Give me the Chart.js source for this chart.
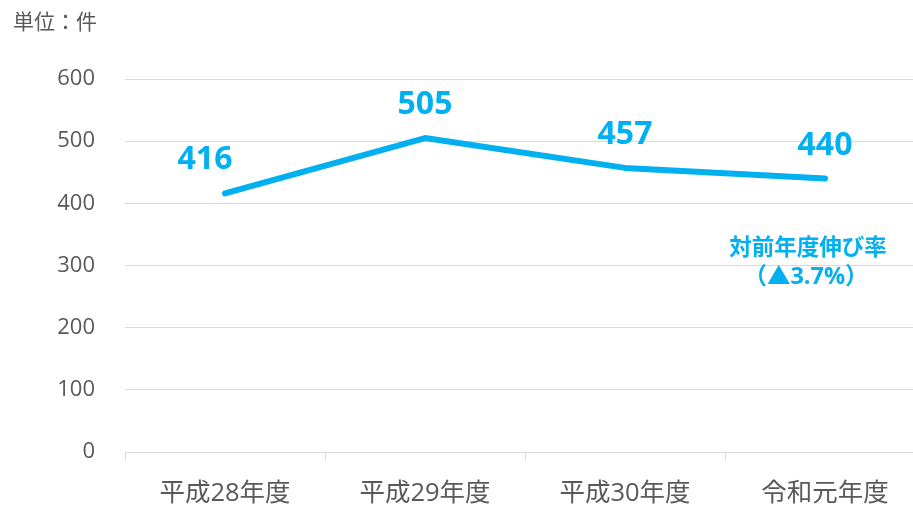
<!DOCTYPE html>
<html>
<head>
<meta charset="utf-8">
<script src="https://cdn.jsdelivr.net/npm/chart.js@4"></script>
<style>
  html, body { margin: 0; padding: 0; background: #fff; overflow: hidden; }
  #wrap { position: relative; width: 925px; height: 508px; }
</style>
</head>
<body>
<div id="wrap"><canvas id="grafico"></canvas></div>
<script>
// 年度ごとの件数
const nendo = ["平成28年度", "平成29年度", "平成30年度", "令和元年度"];
const kensu = [416, 505, 457, 440];
const yTicks = [0, 100, 200, 300, 400, 500, 600];
const tani = "単位：件";
const chushaku = ["対前年度伸び率", "（▲3.7%）"];

const AO = "#00b0f0";
const HAI = "#595959";
const SEN = "#d9d9d9";
const FONT = "'Open Sans', 'Noto Sans CJK JP', sans-serif";

// ラベル類は自前で描く
const labelPlugin = {
    id: "labels",
    afterDatasetsDraw(chart) {
        const ctx = chart.ctx;
        const meta = chart.getDatasetMeta(0);
        const xs = chart.scales.x, ys = chart.scales.y;
        const shift = [-20, 0, 0, 0];

        ctx.save();
        ctx.fillStyle = AO;
        ctx.font = "bold 32px " + FONT;
        ctx.textAlign = "center";
        ctx.textBaseline = "middle";
        meta.data.forEach((p, i) => {
            ctx.fillText(String(kensu[i]), p.x + shift[i], p.y - 33);
        });

        // 伸び率の注記
        ctx.font = "bold 22.5px " + FONT;
        const cx = xs.getPixelForValue(3) - 17;
        const cy = ys.getPixelForValue(327);
        ctx.fillText(chushaku[0], cx, cy);
        ctx.font = "bold 23.5px " + FONT;
        ctx.fillText(chushaku[1], cx - 2, cy + 29);

        // 単位
        ctx.fillStyle = HAI;
        ctx.font = "21px " + FONT;
        ctx.textAlign = "left";
        ctx.fillText(tani, 13, 23);
        ctx.restore();
    }
};

new Chart(document.getElementById("grafico"), {
    type: "line",
    data: {
        labels: nendo,
        datasets: [{
            data: kensu,
            borderColor: AO,
            borderWidth: 6,
            borderCapStyle: "round",
            borderJoinStyle: "round",
            pointRadius: 0,
            tension: 0,
            fill: false
        }]
    },
    options: {
        responsive: true,
        maintainAspectRatio: false,
        animation: false,
        layout: { padding: { top: 79, left: 0, right: 0, bottom: 0 } },
        plugins: { legend: { display: false }, tooltip: { enabled: false } },
        scales: {
            x: {
                offset: true,
                grid: { offset: true, drawOnChartArea: false, drawTicks: true, tickLength: 9, color: SEN },
                border: { display: true, color: SEN },
                ticks: { color: HAI, font: { family: FONT, size: 25.5 }, padding: 17, maxRotation: 0 },
                afterFit(s) { s.height = 56; }
            },
            y: {
                min: 0,
                max: 600,
                afterBuildTicks(s) { s.ticks = yTicks.map(v => ({ value: v })); },
                grid: { color: SEN, drawTicks: false },
                border: { display: false },
                ticks: { color: HAI, font: { family: FONT, size: 22 }, padding: 30 },
                afterFit(s) { s.width = 125; }
            }
        }
    },
    plugins: [labelPlugin]
});
</script>
</body>
</html>
